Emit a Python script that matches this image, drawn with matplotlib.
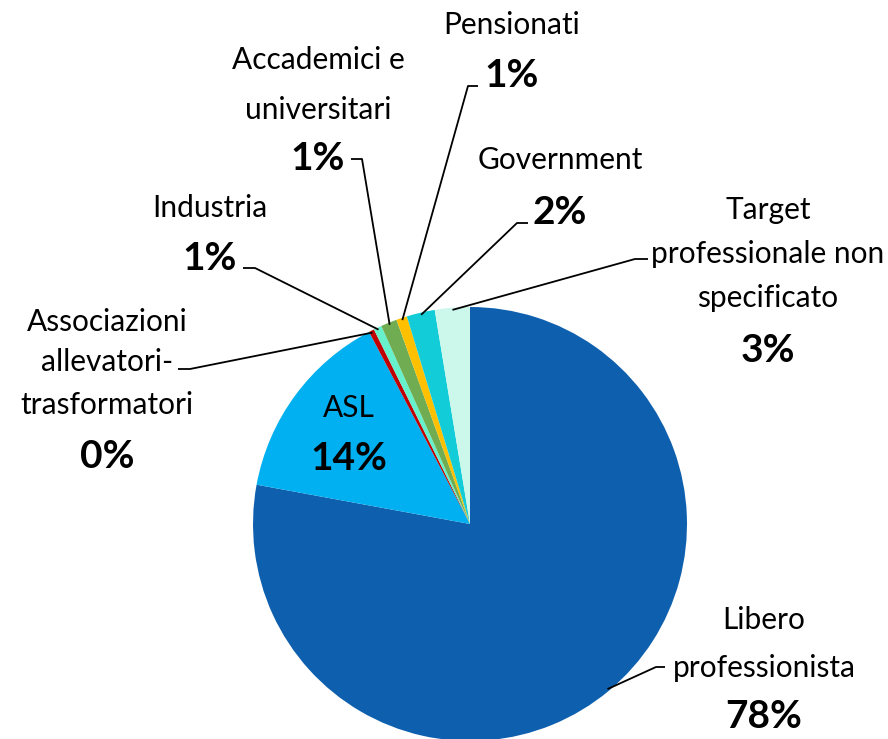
import matplotlib
matplotlib.use("Agg")
import matplotlib.pyplot as plt
import numpy as np

categories = ["Libero\nprofessionista", "ASL", "Associazioni\nallevatori-\ntrasformatori",
              "Industria", "Accademici e\nuniversitari", "Pensionati", "Government",
              "Target\nprofessionale non\nspecificato"]
values = [77.9, 14.4, 0.4, 0.6, 1.2, 0.8, 2.1, 2.6]
colors = ["#0E60AE", "#00B0F0", "#C00000", "#66F0CC", "#70AD52", "#FFC000", "#12CCD8", "#CCF8EC"]

W, H = 888, 739
CX, CY, R = 470, 524, 217

fig = plt.figure(figsize=(W / 100, H / 100), dpi=100)
ax = fig.add_axes([0, 0, 1, 1])

wedges, _ = ax.pie(values, colors=colors, startangle=90, counterclock=False,
                   radius=1.0, center=(0, 0), frame=True,
                   wedgeprops=dict(linewidth=0))
ax.set_xlim(-CX / R, (W - CX) / R)
ax.set_ylim((CY - H) / R, CY / R)
ax.set_aspect("auto")
ax.axis("off")

def p2d(px, py):
    return ((px - CX) / R, (CY - py) / R)

FONT = "Lato"
NAME_SIZE = 21.5
PCT_SIZE = 28
total = sum(values)
pcts = [f"{round(v / total * 100):d}%" for v in values]

layout = [
    dict(x=764, ys=[620, 668], py=716, elbow=[(656, 667), (665, 667)]),
    dict(x=349, ys=[408], py=458, elbow=None),
    dict(x=107, ys=[322, 362, 405], py=457, elbow=[(190, 369), (178, 369)]),
    dict(x=210, ys=[208], py=258, elbow=[(255, 268), (243, 268)]),
    dict(x=318, ys=[60, 110], py=158, elbow=[(362, 159), (351, 159)]),
    dict(x=512, ys=[25], py=75, elbow=[(468, 86), (478, 86)]),
    dict(x=560, ys=[160], py=212, elbow=[(517, 223), (528, 223)]),
    dict(x=768, ys=[210, 254, 298], py=350, elbow=[(635, 259), (648, 259)]),
]

for w, cat, pct, lay in zip(wedges, categories, pcts, layout):
    for line, y in zip(cat.split("\n"), lay["ys"]):
        ax.text(*p2d(lay["x"], y), line, ha="center", va="center",
                fontsize=NAME_SIZE, family=FONT, color="black")
    ax.text(*p2d(lay["x"], lay["py"]), pct, ha="center", va="center",
            fontsize=PCT_SIZE, family=FONT, fontweight="bold", color="black")
    if lay["elbow"]:
        mid = np.deg2rad((w.theta1 + w.theta2) / 2)
        sx, sy = np.cos(mid) * 0.99, np.sin(mid) * 0.99
        pts = [(sx, sy)] + [p2d(*p) for p in lay["elbow"]]
        xs, ys = zip(*pts)
        ax.plot(xs, ys, color="black", linewidth=1.3, solid_capstyle="butt")

fig.savefig("out.png", dpi=100)
